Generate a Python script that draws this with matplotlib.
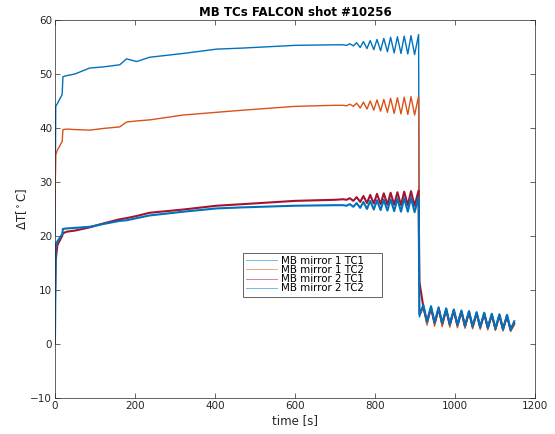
import numpy as np
import matplotlib
matplotlib.use("Agg")
from matplotlib import pyplot as plt

# time grids [s]
t_ramp = [0, 2, 6, 18, 20, 30, 50, 87, 120, 162, 179, 204, 237, 321, 404, 471, 600, 700]
t_osc = [720, 729, 737, 746, 754, 763, 771, 780, 788, 797, 805, 814,
         822, 831, 839, 848, 856, 865, 873, 882, 890, 899, 909]
t_post = [911, 921, 930, 940, 949, 959, 968, 978, 987, 997, 1006, 1016, 1025,
          1035, 1044, 1054, 1063, 1073, 1082, 1092, 1101, 1111, 1120, 1130, 1139, 1148]

labels = ["MB mirror 1 TC1", "MB mirror 1 TC2", "MB mirror 2 TC1", "MB mirror 2 TC2"]
colors = ["#0072BD", "#D95319", "#A2142F", "#0072BD"]

# MB mirror 1 TC1
m1tc1_ramp = [20, 44.0, 44.5, 46.2, 49.5, 49.7, 50.0, 51.1, 51.3, 51.7, 52.8, 52.3,
              53.1, 53.8, 54.6, 54.8, 55.3, 55.4]
m1tc1_osc = [55.4, 55.3, 55.6, 55.2, 55.8, 54.9, 56.0, 54.7, 56.2, 54.5, 56.4, 54.3,
             56.6, 54.1, 56.8, 53.9, 56.9, 53.8, 57.0, 53.7, 57.1, 53.6, 57.3]
m1tc1_post = [5.0, 7.0, 4.0, 6.8, 3.8, 6.6, 3.7, 6.5, 3.5, 6.3, 3.4, 6.1, 3.2,
              6.0, 3.1, 5.8, 3.0, 5.7, 2.9, 5.5, 2.7, 5.4, 2.6, 5.3, 2.5, 4.0]

# MB mirror 1 TC2
m1tc2_ramp = [25, 35.0, 35.9, 37.5, 39.7, 39.8, 39.7, 39.6, 39.9, 40.2, 41.1, 41.3,
              41.5, 42.4, 42.9, 43.3, 44.0, 44.2]
m1tc2_osc = [44.2, 44.1, 44.4, 44.0, 44.6, 43.7, 44.8, 43.5, 45.0, 43.3, 45.2, 43.1,
             45.3, 42.9, 45.5, 42.7, 45.6, 42.6, 45.7, 42.5, 45.8, 42.4, 45.9]
m1tc2_post = [5.5, 6.6, 3.5, 6.5, 3.3, 6.3, 3.2, 6.1, 3.1, 6.0, 3.0, 5.8, 2.9,
              5.7, 2.8, 5.5, 2.7, 5.4, 2.6, 5.2, 2.5, 5.1, 2.4, 5.0, 2.3, 3.5]

# MB mirror 2 TC1
m2tc1_ramp = [8, 15.5, 18.3, 20.0, 20.5, 20.8, 21.0, 21.6, 22.3, 23.1, 23.3, 23.7,
              24.3, 24.9, 25.6, 25.9, 26.5, 26.7]
m2tc1_osc = [26.8, 26.7, 27.0, 26.5, 27.2, 26.3, 27.4, 26.1, 27.6, 26.0, 27.8, 25.9,
             27.9, 25.8, 28.0, 25.8, 28.1, 25.7, 28.2, 25.7, 28.3, 25.6, 28.4]
m2tc1_post = [11.5, 6.8, 4.2, 6.7, 4.0, 6.5, 3.9, 6.3, 3.7, 6.2, 3.6, 6.0, 3.4,
              5.9, 3.3, 5.7, 3.2, 5.6, 3.1, 5.4, 2.9, 5.3, 2.8, 5.2, 2.7, 3.8]

# MB mirror 2 TC2
m2tc2_ramp = [0, 18.5, 19.0, 20.3, 21.3, 21.4, 21.5, 21.7, 22.2, 22.8, 22.9, 23.3,
              23.8, 24.5, 25.1, 25.3, 25.6, 25.7]
m2tc2_osc = [25.7, 25.6, 25.9, 25.4, 26.1, 25.2, 26.3, 25.0, 26.5, 24.9, 26.6, 24.8,
             26.7, 24.7, 26.8, 24.6, 26.9, 24.5, 27.0, 24.5, 27.1, 24.4, 27.2]
m2tc2_post = [5.5, 7.2, 4.1, 7.0, 3.9, 6.8, 3.8, 6.6, 3.6, 6.4, 3.5, 6.2, 3.3,
              6.1, 3.2, 5.9, 3.1, 5.8, 3.0, 5.6, 2.8, 5.5, 2.7, 5.4, 2.6, 4.2]

series = [
    (m1tc1_ramp, m1tc1_osc, m1tc1_post),
    (m1tc2_ramp, m1tc2_osc, m1tc2_post),
    (m2tc1_ramp, m2tc1_osc, m2tc1_post),
    (m2tc2_ramp, m2tc2_osc, m2tc2_post),
]

plt.rcParams["font.family"] = "DejaVu Sans"
fig = plt.figure(figsize=(5.55, 4.34), dpi=100)
ax = fig.add_axes([0.099, 0.083, 0.865, 0.871])

t_all = t_ramp + t_osc + t_post
widths = [1.0, 1.0, 1.5, 1.5]
for (r, o, p), lab, c, lw in zip(series, labels, colors, widths):
    ax.plot(t_all, r + o + p, color=c, lw=lw, label=lab)

ax.set_xlim(0, 1200)
ax.set_ylim(-10, 60)
ax.set_xticks(np.arange(0, 1201, 200))
ax.set_yticks(np.arange(-10, 61, 10))
ax.tick_params(direction="in", top=True, right=True, length=3.5, width=0.5,
               labelsize=7.5, colors="#262626", pad=2)
for s in ax.spines.values():
    s.set_color("#262626")
    s.set_linewidth(0.5)

ax.set_title("MB TCs FALCON shot #10256", fontsize=8.5, fontweight="bold", pad=3)
ax.set_xlabel("time [s]", fontsize=8.5, color="#262626", labelpad=2)
ax.set_ylabel(r"$\Delta$T[$^\circ$C]", fontsize=8.5, color="#262626", labelpad=1)

leg = ax.legend(loc="upper left", bbox_to_anchor=(0.392, 0.265, 0.289, 0.119),
                mode="expand", fontsize=7.4, handlelength=3.0, labelspacing=-0.08,
                borderpad=0.3, handletextpad=0.4, fancybox=False, framealpha=1,
                borderaxespad=0)
leg.get_frame().set_edgecolor("#262626")
leg.get_frame().set_linewidth(0.5)
for ln in leg.get_lines():
    ln.set_linewidth(0.6)
    ln.set_alpha(0.6)

fig.savefig("out.png", dpi=100)
